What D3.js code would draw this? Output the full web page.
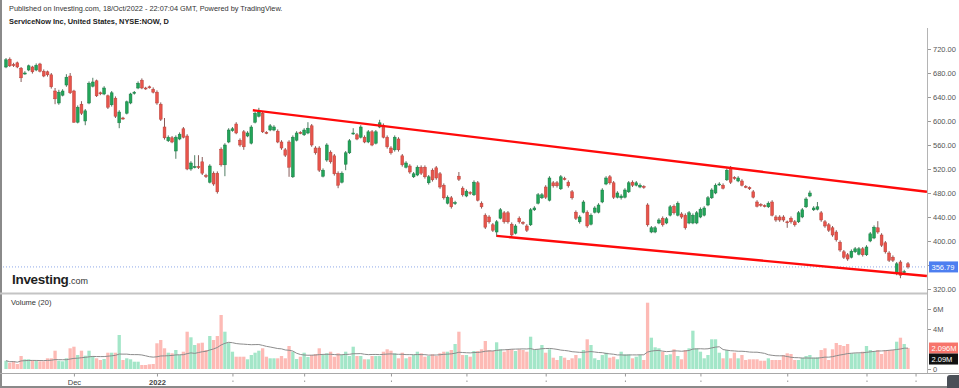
<!DOCTYPE html>
<html lang="en">
<head>
    <meta charset="utf-8">
    <script src="https://cdn.jsdelivr.net/npm/d3@7"></script>
    <style type="text/css">
        body { margin: 0; background: #fff; }
        svg { display: block; font-family: Arial, "Liberation Sans", sans-serif; }
    </style>
</head>
<body>
    <script>
        // daily bars, 04/Nov/2021 .. 18/Oct/2022 (bar index 0..239)
        let opens = [690,703,694,697,688,679,685,690,685,695, 683,682,677,650,630,643,660,675,650,598,
            628,600,630,658,667,647,645,642,627,638, 597,605,613,630,646,655,668,655,657,653,
            648,628,590,567,572,550,570,587,575,520, 523,524,532,509,498,513,513,553,527,565,
            584,595,568,582,575,563,598,608,613,581, 585,585,583,565,552,565,507,568,581,577,
            580,592,555,555,508,535,548,542,513,498, 528,547,579,577,573,573,565,582,563,590,
            593,573,555,552,570,542,523,525,507,510, 523,523,497,518,522,512,493,463,472,463,
            508,488,475,481,477,497,463,443,440,427, 415,438,447,447,428,413,438,431,425,427,
            452,463,472,490,468,497,497,487,504,498, 482,448,432,448,448,428,448,448,465,495,
            507,497,473,472,473,482,498,493,490,491, 460,415,415,430,438,430,443,458,443,445,
            443,430,430,430,440,443,460,472,480,494, 493,502,522,506,500,500,491,489,482,465,
            461,459,457,465,440,440,440,432,438,432, 432,440,457,475,452,453,447,432,427,422,
            415,398,382,377,373,382,378,387,377,400, 405,422,410,397,380,373,347,365,348,362];
        let highs = [705,706,697,699,690,683,694,692,696,697, 686,684,680,655,652,653,678,680,652,626,
            633,620,666,672,669,649,658,644,650,641, 618,607,634,647,650,666,671,657,659,656,
            651,631,605,576,575,576,581,590,578,533, 543,543,540,512,528,516,516,556,563,588,
            590,598,571,585,583,593,616,622,616,583, 595,593,586,568,555,568,576,583,583,588,
            598,595,558,558,521,563,551,545,516,516, 550,570,588,580,593,576,585,585,585,602,
            596,576,558,576,573,545,533,528,515,526, 526,526,510,521,525,515,496,476,475,467,
            515,491,486,483,501,500,466,446,443,430, 435,455,450,450,431,428,441,433,428,455,
            458,480,480,493,508,500,500,510,507,501, 485,451,443,468,451,446,458,463,488,508,
            510,500,483,478,488,500,501,500,496,493, 463,425,425,438,441,440,460,461,466,448,
            446,450,446,450,456,458,475,488,496,498, 496,521,525,508,508,503,493,491,485,468,
            463,461,466,468,443,443,443,434,441,435, 450,455,473,484,458,465,450,435,430,425,
            418,401,385,380,386,390,390,390,393,415, 426,433,413,400,383,376,365,368,352,365];
        let lows = [688,690,690,688,665,677,683,679,683,681, 673,674,654,628,627,641,657,645,597,596,
            610,593,628,656,640,643,643,620,624,605, 588,602,611,628,644,653,653,652,654,646,
            627,600,569,565,563,537,568,571,518,517, 521,520,510,505,496,492,479,524,508,563,
            582,578,557,552,573,561,596,606,580,578, 583,583,563,552,540,507,505,566,578,575,
            578,557,544,515,506,532,529,509,488,496, 518,545,577,568,571,563,563,558,561,588,
            571,554,544,549,549,524,521,512,505,508, 510,504,494,499,502,487,469,461,454,460,
            500,474,473,477,475,466,454,420,429,415, 407,436,429,429,407,411,429,427,415,425,
            450,461,470,470,466,489,489,485,501,489, 469,435,429,446,422,426,446,446,463,493,
            494,470,471,469,471,480,490,491,488,487, 424,413,413,428,424,428,441,444,441,437,
            419,428,428,428,438,441,458,470,478,492, 486,500,495,502,498,491,488,485,471,456,
            457,456,455,441,432,432,432,422,429,424, 430,438,455,473,450,451,432,422,415,407,
            399,382,370,367,371,380,376,374,375,398, 403,412,390,379,365,365,343,338,345,354];
        let closes = [702,692,693,690,672,680,692,682,693,683, 675,677,657,637,648,650,673,647,598,623,
            613,617,663,665,642,646,655,623,647,608, 615,604,632,645,648,663,655,654,656,648,
            630,603,572,573,565,573,578,573,520,530, 524,523,513,508,525,495,482,527,560,585,
            587,580,560,557,580,590,613,615,582,580, 592,590,565,555,543,523,573,580,580,585,
            588,560,547,518,518,560,532,512,493,513, 547,567,580,570,590,565,582,560,582,597,
            573,557,547,573,552,527,530,515,512,523, 513,507,507,502,505,490,472,473,457,464,
            503,477,483,480,498,468,457,423,432,418, 432,452,432,432,410,425,432,430,418,452,
            455,477,477,473,505,492,492,507,503,492, 472,438,440,465,425,443,455,460,485,505,
            497,473,480,475,485,497,493,497,493,490, 427,422,422,435,427,437,457,447,463,440,
            422,447,443,447,453,455,472,485,493,495, 488,518,498,505,505,493,490,487,473,458,
            460,458,463,443,435,435,435,431,432,427, 447,452,470,480,455,457,435,425,418,410,
            402,385,373,370,383,387,387,377,390,412, 423,415,393,382,368,368,362,343,349,356.79];

        // volume in millions
        let volumes = [0.83,0.63,0.77,0.5,1.3,0.97,0.97,0.9,0.83,0.77, 0.77,1.07,1.07,1.83,0.83,0.77,1.07,2.07,2.23,1.4,
            1.83,1.33,1.83,1.3,1.07,0.9,1.0,1.63,1.63,1.63, 3.4,0.9,1.07,0.97,0.73,0.73,0.4,0.4,0.47,0.5,
            2.57,2.9,2.07,1.63,1.57,1.9,1.4,1.73,3.73,3.17, 2.4,2.57,2.63,1.9,3.3,2.9,3.3,5.4,3.73,2.63,
            1.73,1.23,1.23,1.23,0.97,1.4,1.63,1.83,2.07,1.23, 1.07,1.07,1.07,1.3,1.07,2.3,1.73,1.0,1.23,1.63,
            1.2,1.4,1.5,2.07,1.4,1.57,1.73,1.23,1.57,1.4, 1.73,1.3,2.23,1.3,1.3,0.97,0.97,1.3,1.3,1.3,
            1.73,1.97,1.83,1.57,1.07,1.63,1.07,1.23,1.4,1.73, 1.57,1.23,1.3,1.47,1.3,1.57,1.73,1.73,1.9,2.5,
            3.73,1.4,1.4,1.23,1.8,1.8,1.97,2.8,1.9,1.8, 2.67,1.97,1.73,1.97,1.97,1.8,1.97,1.9,1.73,3.23,
            1.9,1.97,2.4,1.63,1.97,1.13,0.9,1.3,1.13,0.9, 1.07,1.4,1.07,1.9,2.97,2.4,1.07,0.9,1.4,1.63,
            1.13,1.23,0.97,1.73,1.47,1.47,1.07,1.23,1.4,0.9, 6.63,3.13,2.17,2.07,1.73,1.4,1.47,1.97,1.3,0.97,
            1.9,2.07,3.83,2.07,1.73,1.07,1.4,2.97,2.97,1.63, 1.07,1.9,1.07,1.63,1.07,1.4,0.9,0.97,0.97,0.97,
            0.83,0.83,1.07,0.9,0.9,0.9,1.4,1.57,1.5,0.9, 0.9,1.13,1.3,1.4,1.13,1.17,1.9,2.07,0.9,1.97,
            2.6,2.4,2.3,2.5,1.57,1.57,1.57,1.73,2.3,1.9, 1.73,1.9,1.5,1.9,1.9,1.9,2.73,3.13,2.5,2.096];

        // date axis: bar index of month starts
        let tickIndex = [18, 40, 60, 79, 102, 122, 143, 164, 184, 207, 228, 241];
        let tickLabels = ["Dec", "2022", "", "", "", "", "", "", "", "", "", ""];

        let priceTicks = [320, 360, 400, 440, 480, 520, 560, 600, 640, 680, 720];
        let volumeTicks = [0, 4, 6];

        // drawn channel: [bar index, price]
        let upperLine = [[65.4, 618], [244, 482]];
        let lowerLine = [[130, 408.5], [244, 341.7]];

        let w = 959;
        let h = 388;
        let axisX = 927;
        let upColor = "#22a559", downColor = "#e8544b";
        let volUp = "#a3e6c8", volDown = "#fdbab5";

        let bars = opens.map((o, i) => ({
            i: i, o: o, h: highs[i], l: lows[i], c: closes[i],
            v: volumes[i], up: closes[i] >= o
        }));
        let maPeriod = 20;
        bars.forEach((d, i) => {
            d.ma = d3.mean(volumes.slice(Math.max(0, i - maPeriod + 1), i + 1));
        });

        let svg = d3.select("body")
                    .append("svg")
                    .attr("width", w)
                    .attr("height", h);

        svg.append("rect").attr("width", w).attr("height", h).attr("fill", "#fff");

        let xScale = d3.scaleLinear().domain([0, bars.length - 1]).range([6, 908]);
        let yScale = d3.scaleLinear().domain([320, 720]).range([289, 49]);
        let vScale = d3.scaleLinear().domain([0, 6]).range([369, 309]);

        // header
        svg.append("text")
            .attr("x", 9).attr("y", 10.5)
            .attr("font-size", "7.35px").attr("fill", "#333")
            .text("Published on Investing.com, 18/Oct/2022 - 22:07:04 GMT, Powered by TradingView.");
        svg.append("text")
            .attr("x", 9).attr("y", 23.5)
            .attr("font-size", "7.4px").attr("font-weight", "bold").attr("fill", "#222")
            .text("ServiceNow Inc, United States, NYSE:NOW, D");

        svg.append("defs").append("clipPath").attr("id", "pclip")
            .append("rect").attr("x", 2).attr("y", 28).attr("width", axisX - 2).attr("height", 264);

        // frame
        svg.append("line").attr("x1", 1).attr("x2", 1).attr("y1", 0).attr("y2", h)
            .attr("stroke", "#8a8a8a").attr("stroke-width", 2);
        svg.append("line").attr("x1", axisX + 0.5).attr("x2", axisX + 0.5).attr("y1", 28).attr("y2", 374)
            .attr("stroke", "#b4b4b4");
        svg.append("line").attr("x1", 0).attr("x2", axisX).attr("y1", 293.5).attr("y2", 293.5)
            .attr("stroke", "#c4c4c4").attr("stroke-width", 2);
        svg.append("line").attr("x1", 0).attr("x2", w).attr("y1", 373.5).attr("y2", 373.5)
            .attr("stroke", "#a8a8a8");
        svg.append("line").attr("x1", 0).attr("x2", w).attr("y1", 387).attr("y2", 387)
            .attr("stroke", "#8a8a8a").attr("stroke-width", 2);

        // last price dotted line
        svg.append("line")
            .attr("x1", 3).attr("x2", axisX)
            .attr("y1", yScale(closes[closes.length - 1])).attr("y2", yScale(closes[closes.length - 1]))
            .attr("stroke", "#8fa8e8").attr("stroke-width", 1).attr("stroke-dasharray", "1,2");

        // logo
        let logo = svg.append("text").attr("x", 12).attr("y", 284).attr("fill", "#1f1f1f");
        logo.append("tspan").attr("font-size", "13.5px").attr("font-weight", "bold")
            .attr("letter-spacing", "-0.3").text("Investing");
        logo.append("tspan").attr("font-size", "9px").attr("fill", "#333").text(".com");

        let plot = svg.append("g").attr("clip-path", "url(#pclip)");

        // candles
        plot.selectAll("line.wick")
            .data(bars)
            .enter()
            .append("line")
            .attr("class", "wick")
            .attr("x1", (d) => xScale(d.i)).attr("x2", (d) => xScale(d.i))
            .attr("y1", (d) => yScale(d.h)).attr("y2", (d) => yScale(d.l))
            .attr("stroke", (d) => d.up ? "#3d6f52" : "#7a4a46")
            .attr("stroke-width", 0.9);

        plot.selectAll("rect.body")
            .data(bars)
            .enter()
            .append("rect")
            .attr("class", "body")
            .attr("x", (d) => xScale(d.i) - 1.4)
            .attr("y", (d) => yScale(Math.max(d.o, d.c)))
            .attr("width", 2.8)
            .attr("height", (d) => Math.max(1, Math.abs(yScale(d.o) - yScale(d.c))))
            .attr("fill", (d) => d.up ? upColor : downColor)
            .attr("stroke", (d) => d.up ? "#1b7a45" : "#b8423b")
            .attr("stroke-width", 0.5);

        // channel lines
        let lineGen = d3.line().x((d) => xScale(d[0])).y((d) => yScale(d[1]));
        [upperLine, lowerLine].forEach((pts) => {
            plot.append("path")
                .attr("d", lineGen(pts))
                .attr("fill", "none")
                .attr("stroke", "#ff0a0a")
                .attr("stroke-width", 2.4);
        });

        // volume
        svg.selectAll("rect.vol")
            .data(bars)
            .enter()
            .append("rect")
            .attr("class", "vol")
            .attr("x", (d) => xScale(d.i) - 1.65)
            .attr("y", (d) => vScale(d.v))
            .attr("width", 3.3)
            .attr("height", (d) => vScale(0) - vScale(d.v))
            .attr("fill", (d) => d.up ? volUp : volDown);

        svg.append("path")
            .datum(bars)
            .attr("d", d3.line().x((d) => xScale(d.i)).y((d) => vScale(d.ma)))
            .attr("fill", "none")
            .attr("stroke", "#8c8c8c")
            .attr("stroke-width", 1);

        svg.append("text")
            .attr("x", 11).attr("y", 305)
            .attr("font-size", "7.5px").attr("fill", "#333")
            .text("Volume (20)");

        // price axis
        let yAxis = d3.axisRight(yScale).tickValues(priceTicks).tickSize(3).tickPadding(2)
            .tickFormat(d3.format(".2f"));
        let ya = svg.append("g").attr("transform", "translate(" + (axisX + 1) + ",0)").call(yAxis);
        ya.select(".domain").remove();
        ya.selectAll("line").attr("stroke", "#999");
        ya.selectAll("text").attr("font-size", "7.5px").attr("fill", "#555")
            .attr("font-family", "Arial, 'Liberation Sans', sans-serif");

        // volume axis
        let vAxis = d3.axisRight(vScale).tickValues(volumeTicks).tickSize(3).tickPadding(2)
            .tickFormat((d) => d === 0 ? "0" : d + "M");
        let va = svg.append("g").attr("transform", "translate(" + (axisX + 1) + ",0)").call(vAxis);
        va.select(".domain").remove();
        va.selectAll("line").attr("stroke", "#999");
        va.selectAll("text").attr("font-size", "7.5px").attr("fill", "#555")
            .attr("font-family", "Arial, 'Liberation Sans', sans-serif");

        // time axis
        let xAxis = d3.axisBottom(xScale).tickValues(tickIndex).tickSize(3).tickPadding(3)
            .tickFormat((d, i) => tickLabels[i]);
        let xa = svg.append("g").attr("transform", "translate(0,373.5)").call(xAxis);
        xa.select(".domain").remove();
        xa.selectAll("line").attr("stroke", "#999");
        xa.selectAll("text").attr("font-size", "7.5px").attr("fill", "#444")
            .attr("font-family", "Arial, 'Liberation Sans', sans-serif")
            .attr("font-weight", (d, i) => tickLabels[i] === "2022" ? "bold" : "normal");
        xa.selectAll(".tick").filter((d, i) => tickLabels[i] === "")
            .append("rect").attr("x", -0.5).attr("y", 7).attr("width", 1).attr("height", 1.5)
            .attr("fill", "#999");

        // value labels on the right
        let last = bars[bars.length - 1];
        let tags = [
            { y: yScale(last.c), text: d3.format(".2f")(last.c), fill: "#4d7ff0" },
            { y: vScale(last.v), text: d3.format(".3f")(last.v) + "M", fill: "#f7746b" },
            { y: vScale(last.v) + 11, text: d3.format(".2f")(last.ma) + "M", fill: "#111" }
        ];
        tags.forEach((t) => {
            svg.append("rect")
                .attr("x", axisX + 2).attr("y", t.y - 5.5)
                .attr("width", 29).attr("height", 11)
                .attr("fill", t.fill);
            svg.append("text")
                .attr("x", axisX + 4.5).attr("y", t.y + 2.7)
                .attr("font-size", "7.5px").attr("fill", "#fff")
                .text(t.text);
        });

        // corner button
        svg.append("rect").attr("x", 947).attr("y", 375).attr("width", 14).attr("height", 15)
            .attr("rx", 3).attr("fill", "#4a4f57");
    </script>
</body>
</html>
